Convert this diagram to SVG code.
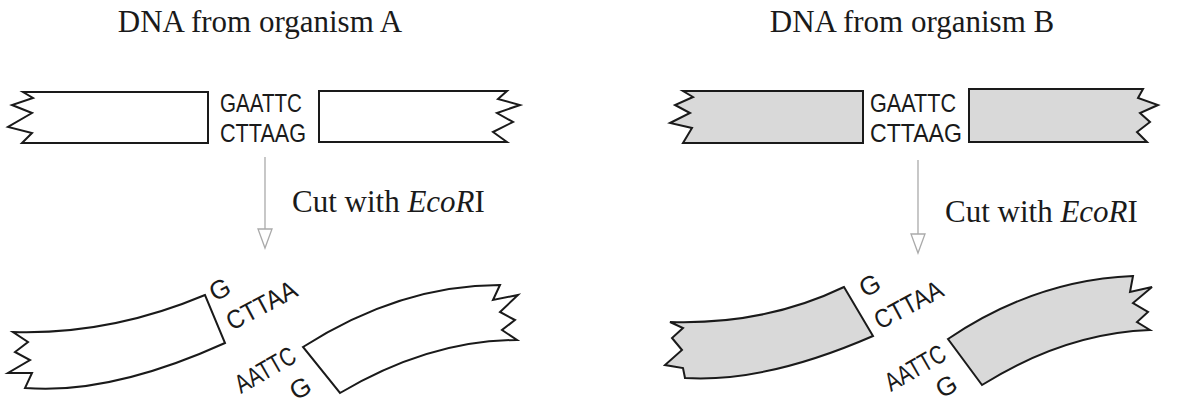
<svg xmlns="http://www.w3.org/2000/svg" width="1188" height="406" viewBox="0 0 1188 406">
<defs>
<style>
.strand{stroke:#1a1a1a;stroke-width:2;stroke-linejoin:miter}
.a{fill:#ffffff}
.b{fill:#d9d9d9}
.seq{font-family:"Liberation Sans",Arial,sans-serif;font-size:26px;fill:#1a1a1a}
.title{font-family:"Liberation Serif","Times New Roman",serif;font-size:31px;fill:#1a1a1a}
.arrow{stroke:#aaaaaa;stroke-width:1.3;fill:none}
</style>
</defs>
<rect width="1188" height="406" fill="#ffffff"/>

<g id="panelA">
<text class="title" x="260" y="32" text-anchor="middle">DNA from organism A</text>
<g id="A_left">
<path class="strand a" d="M23,92 L208,92 L208,143 L22,143 L32,133 L8,127 L32,113 L12,105 L33,98 Z"/>
</g>
<g id="A_site">
<text class="seq" x="220" y="112" textLength="82" lengthAdjust="spacingAndGlyphs">GAATTC</text>
<text class="seq" x="220" y="142" textLength="86" lengthAdjust="spacingAndGlyphs">CTTAAG</text>
</g>
<g id="A_right">
<path class="strand a" d="M319,91 L507,91 L498,99 L520,105 L497,113 L513,122 L493,132 L507,142 L319,142 Z"/>
</g>
<g id="A_cut_left">
<path class="strand a" d="M13,332 Q110,335 205,295 L225,343 Q110,395 25,388 L32,373 L8,373 L30,360 L15,352 L28,342 Z"/>
<text class="seq" transform="translate(215,302) rotate(-28)">G</text>
<text class="seq" transform="translate(232,331) rotate(-28)" textLength="76" lengthAdjust="spacingAndGlyphs">CTTAA</text>
</g>
<g id="A_cut_right">
<path class="strand a" d="M303,347 Q400,285 500,285 L493,300 L518,295 L500,312 L515,320 L502,330 L517,340 Q430,340 340,393 Z"/>
<text class="seq" transform="translate(241,394) rotate(-30)" textLength="66" lengthAdjust="spacingAndGlyphs">AATTC</text>
<text class="seq" transform="translate(296,401) rotate(-30)">G</text>
</g>
<g id="A_label">
<text class="title" x="292" y="212">Cut with <tspan font-style="italic">EcoR</tspan>I</text>
</g>
</g>

<g id="panelB">
<text class="title" x="912" y="32" text-anchor="middle">DNA from organism B</text>
<g id="B_left">
<path class="strand b" d="M683,91 L863,91 L863,143 L683,143 L692,128 L670,123 L690,113 L675,105 L693,97 Z"/>
</g>
<g id="B_site">
<text class="seq" x="870" y="112" textLength="86" lengthAdjust="spacingAndGlyphs">GAATTC</text>
<text class="seq" x="870" y="142" textLength="92" lengthAdjust="spacingAndGlyphs">CTTAAG</text>
</g>
<g id="B_right">
<path class="strand b" d="M969,89 L1143,89 L1138,98 L1158,105 L1140,113 L1150,122 L1137,132 L1147,142 L969,142 Z"/>
</g>
<g id="B_cut_left">
<path class="strand b" d="M670,322 Q765,325 844,287 L873,336 Q765,383 685,378 L683,368 L665,365 L682,350 L672,338 L683,328 Z"/>
<text class="seq" transform="translate(865,298) rotate(-28)">G</text>
<text class="seq" transform="translate(880,330) rotate(-28)" textLength="74" lengthAdjust="spacingAndGlyphs">CTTAA</text>
</g>
<g id="B_cut_right">
<path class="strand b" d="M948,339 Q1035,280 1133,276 L1130,292 L1152,287 L1133,303 L1148,312 L1137,322 L1150,330 Q1065,333 982,385 Z"/>
<text class="seq" transform="translate(891,392) rotate(-30)" textLength="66" lengthAdjust="spacingAndGlyphs">AATTC</text>
<text class="seq" transform="translate(942,399) rotate(-30)">G</text>
</g>
<g id="B_label">
<text class="title" x="945" y="222">Cut with <tspan font-style="italic">EcoR</tspan>I</text>
</g>
</g>

<g id="connectors">
<line class="arrow" x1="265" y1="157" x2="265" y2="229"/>
<path class="arrow" d="M258,229 L272,229 L265,248 Z"/>
<line class="arrow" x1="918" y1="160" x2="918" y2="234"/>
<path class="arrow" d="M911,234 L925,234 L918,253 Z"/>
</g>
</svg>
